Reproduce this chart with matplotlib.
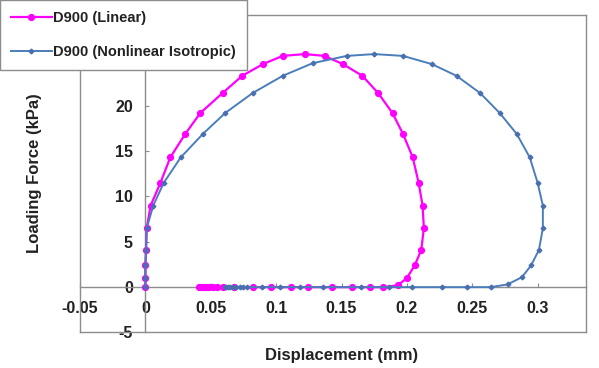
import matplotlib
matplotlib.use("Agg")
import matplotlib.pyplot as plt

plt.rcParams['font.family'] = ['Liberation Sans', 'DejaVu Sans']

# D900 (Linear): displacement (mm), loading force (kPa)
lin_x = [0, 0, 0, 0.0005, 0.001, 0.004, 0.0115, 0.019, 0.0305, 0.042, 0.059, 0.074,
         0.090, 0.105, 0.122, 0.137, 0.151, 0.166, 0.178, 0.189, 0.197, 0.2045, 0.209,
         0.212, 0.213, 0.211, 0.206, 0.200, 0.193, 0.182, 0.172, 0.158, 0.143, 0.124,
         0.111, 0.096, 0.082, 0.068, 0.059, 0.055, 0.052, 0.049, 0.047, 0.045, 0.043,
         0.042, 0.041]
lin_y = [0, 1.0, 2.4, 4.1, 6.5, 9.0, 11.5, 14.3, 16.9, 19.2, 21.4, 23.3,
         24.6, 25.5, 25.7, 25.5, 24.6, 23.3, 21.4, 19.2, 16.9, 14.3, 11.5,
         9.0, 6.5, 4.1, 2.4, 1.0, 0.2, 0, 0, 0, 0, 0,
         0, 0, 0, 0, 0, 0, 0, 0, 0, 0, 0,
         0, 0]

# D900 (Nonlinear Isotropic)
nl_x = [0, 0, 0, 0.0005, 0.001, 0.006, 0.014, 0.027, 0.044, 0.061, 0.082, 0.105,
        0.128, 0.154, 0.175, 0.197, 0.219, 0.238, 0.256, 0.271, 0.284, 0.294, 0.300,
        0.304, 0.304, 0.301, 0.295, 0.288, 0.277, 0.264, 0.246, 0.227, 0.204, 0.186,
        0.165, 0.136, 0.118, 0.103, 0.089, 0.078, 0.075, 0.072, 0.069, 0.067, 0.065,
        0.063, 0.062, 0.061]
nl_y = [0, 1.0, 2.4, 4.1, 6.5, 9.0, 11.5, 14.3, 16.9, 19.2, 21.4, 23.3,
        24.7, 25.5, 25.7, 25.5, 24.6, 23.3, 21.4, 19.2, 16.9, 14.3, 11.5,
        9.0, 6.5, 4.1, 2.4, 1.1, 0.3, 0, 0, 0, 0, 0,
        0, 0, 0, 0, 0, 0, 0, 0, 0, 0, 0,
        0, 0, 0]

x_ticks = [-0.05, 0, 0.05, 0.1, 0.15, 0.2, 0.25, 0.3]
x_labels = ['-0.05', '0', '0.05', '0.1', '0.15', '0.2', '0.25', '0.3']
y_ticks = [-5, 0, 5, 10, 15, 20, 25, 30]
y_labels = ['-5', '0', '5', '10', '15', '20', '', '']  # 25 and 30 sit under the legend

fig = plt.figure(figsize=(5.99, 3.68), dpi=100)
ax = fig.add_axes([0.1336, 0.0965, 0.8447, 0.8625])

grey = '#8c8c8c'
ax.plot(lin_x, lin_y, color='#ff00ff', lw=1.6, marker='o', ms=4.2,
        label='D900 (Linear)', zorder=3)
ax.plot(nl_x, nl_y, color='#4a7ebb', lw=1.4, marker='D', ms=2.4,
        mfc='#4a6fb0', mec='#4a6fb0', label='D900 (Nonlinear Isotropic)', zorder=4)

ax.set_xlim(-0.05, 0.337)
ax.set_ylim(-5, 30)
ax.set_xticks(x_ticks)
ax.set_xticklabels(x_labels)
ax.set_yticks(y_ticks)
ax.set_yticklabels(y_labels)

# axes crossing at zero, plus a plain frame round the plot area
ax.spines['left'].set_position(('data', 0))
ax.spines['bottom'].set_position(('data', 0))
for s in ax.spines.values():
    s.set_color(grey)
    s.set_linewidth(1.0)
ax.plot([0, 0], [0, 1], transform=ax.transAxes, color=grey, lw=1.0, clip_on=False)
ax.plot([0, 1], [0, 0], transform=ax.transAxes, color=grey, lw=1.0, clip_on=False)
ax.tick_params(direction='in', length=3, color=grey, labelsize=11.5)
ax.tick_params(axis='x', pad=10)
ax.tick_params(axis='y', pad=9)
for t in ax.get_xticklabels() + ax.get_yticklabels():
    t.set_fontweight('bold')
    t.set_color('#222222')

fig.text(0.571, 0.035, 'Displacement (mm)', ha='center', va='center',
         fontsize=12, fontweight='bold', color='#222222')
fig.text(0.057, 0.53, 'Loading Force (kPa)', ha='center', va='center',
         rotation=90, fontsize=12, fontweight='bold', color='#222222')

leg = fig.legend(loc='upper left', bbox_to_anchor=(0.0, 1.0), borderaxespad=0,
                 fontsize=10.5, frameon=True, fancybox=False, framealpha=1,
                 edgecolor=grey, handlelength=2.8, handletextpad=0.1,
                 labelspacing=1.35, borderpad=0.75)
for t in leg.get_texts():
    t.set_fontweight('bold')
    t.set_color('#222222')
leg.get_frame().set_linewidth(1.0)

fig.savefig('out.png', dpi=100)
